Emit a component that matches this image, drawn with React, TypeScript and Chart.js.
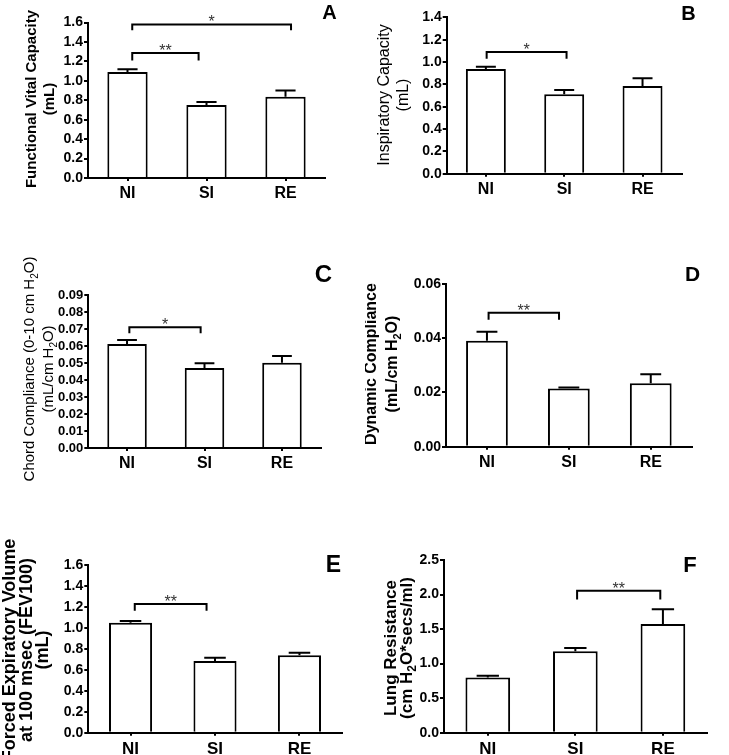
import React, { useEffect, useRef } from 'react';
import { Chart, registerables } from 'chart.js';

Chart.register(...registerables);

const FONT = 'Arial, "Liberation Sans", Helvetica, sans-serif';

const categories = ['NI', 'SI', 'RE'];

// A – Functional Vital Capacity
const fvcMean = [1.09, 0.75, 0.835];
const fvcSem = [0.028, 0.033, 0.065];
const fvcAxis = { max: 1.6, step: 0.2, decimals: 1 };
const fvcBrackets = [
  { from: 0.06, to: 0.9, top: 1.285, leg: 1.21, label: '**' },
  { from: 0.06, to: 2.07, top: 1.58, leg: 1.52, label: '*' },
];

// B – Inspiratory Capacity
const icMean = [0.937, 0.711, 0.785];
const icSem = [0.021, 0.039, 0.069];
const icAxis = { max: 1.4, step: 0.2, decimals: 1 };
const icBrackets = [{ from: 0.01, to: 1.03, top: 1.09, leg: 1.03, label: '*' }];

// C – Chord Compliance
const ccMean = [0.0612, 0.047, 0.0502];
const ccSem = [0.0023, 0.0028, 0.0039];
const ccAxis = { max: 0.09, step: 0.01, decimals: 2 };
const ccBrackets = [{ from: 0.03, to: 0.95, top: 0.071, leg: 0.0675, label: '*' }];

// D – Dynamic Compliance
const dcMean = [0.0391, 0.0215, 0.0234];
const dcSem = [0.0033, 0.0003, 0.0033];
const dcAxis = { max: 0.06, step: 0.02, decimals: 2 };
const dcBrackets = [{ from: 0.02, to: 0.88, top: 0.0494, leg: 0.0468, label: '**' }];

// E – FEV100
const fevMean = [1.05, 0.684, 0.738];
const fevSem = [0.015, 0.032, 0.025];
const fevAxis = { max: 1.6, step: 0.2, decimals: 1 };
const fevBrackets = [{ from: 0.05, to: 0.9, top: 1.228, leg: 1.164, label: '**' }];

// F – Lung Resistance
const lrMean = [0.8, 1.18, 1.573];
const lrSem = [0.025, 0.046, 0.213];
const lrAxis = { max: 2.5, step: 0.5, decimals: 1 };
const lrBrackets = [{ from: 1.02, to: 1.97, top: 2.055, leg: 1.93, label: '**' }];

type Bracket = { from: number; to: number; top: number; leg: number; label: string };
type Panel = {
  letter: string;
  mean: number[];
  sem: number[];
  axis: { max: number; step: number; decimals: number };
  brackets: Bracket[];
  title: string[];
  rect: { l: number; t: number; w: number; h: number };
  area: { l: number; t: number; r: number; b: number };
  titleX: number[];
  titleY: number;
  titleSize: number;
  titleWeight: string;
  letterX: number;
  letterY: number;
  letterSize: number;
  xFont: number;
  yFont: number;
};

const panels: Panel[] = [
  {
    letter: 'A', mean: fvcMean, sem: fvcSem, axis: fvcAxis, brackets: fvcBrackets,
    title: ['Functional Vital Capacity', '(mL)'],
    rect: { l: 0, t: 0, w: 365, h: 250 }, area: { l: 88, t: 22.5, r: 325, b: 178 },
    titleX: [31.5, 50], titleY: 99, titleSize: 15, titleWeight: 'bold',
    letterX: 329.5, letterY: 12, letterSize: 20, xFont: 16, yFont: 14,
  },
  {
    letter: 'B', mean: icMean, sem: icSem, axis: icAxis, brackets: icBrackets,
    title: ['Inspiratory Capacity', '(mL)'],
    rect: { l: 365, t: 0, w: 364, h: 250 }, area: { l: 446.7, t: 17.3, r: 681.7, b: 173.7 },
    titleX: [385, 403.5], titleY: 95, titleSize: 16, titleWeight: 'normal',
    letterX: 688.5, letterY: 13.5, letterSize: 20, xFont: 16, yFont: 14,
  },
  {
    letter: 'C', mean: ccMean, sem: ccSem, axis: ccAxis, brackets: ccBrackets,
    title: ['Chord Compliance (0-10 cm H₂O)', '(mL/cm H₂O)'],
    rect: { l: 0, t: 250, w: 365, h: 260 }, area: { l: 88.3, t: 295, r: 320.7, b: 448 },
    titleX: [30, 49], titleY: 369, titleSize: 15, titleWeight: 'normal',
    letterX: 323.5, letterY: 274, letterSize: 24, xFont: 16, yFont: 13,
  },
  {
    letter: 'D', mean: dcMean, sem: dcSem, axis: dcAxis, brackets: dcBrackets,
    title: ['Dynamic Compliance', '(mL/cm H₂O)'],
    rect: { l: 365, t: 250, w: 364, h: 260 }, area: { l: 446, t: 284, r: 691.7, b: 446.7 },
    titleX: [372, 392.5], titleY: 364, titleSize: 16, titleWeight: 'bold',
    letterX: 692.5, letterY: 274.5, letterSize: 21, xFont: 16, yFont: 14,
  },
  {
    letter: 'E', mean: fevMean, sem: fevSem, axis: fevAxis, brackets: fevBrackets,
    title: ['Forced Expiratory Volume', 'at 100 msec (FEV100)', '(mL)'],
    rect: { l: 0, t: 510, w: 365, h: 245 }, area: { l: 88.3, t: 565, r: 341.7, b: 732.7 },
    titleX: [10, 27, 43.5], titleY: 650, titleSize: 18, titleWeight: 'bold',
    letterX: 333.5, letterY: 565, letterSize: 23, xFont: 17, yFont: 14,
  },
  {
    letter: 'F', mean: lrMean, sem: lrSem, axis: lrAxis, brackets: lrBrackets,
    title: ['Lung Resistance', '(cm H₂O*secs/ml)'],
    rect: { l: 365, t: 510, w: 364, h: 245 }, area: { l: 444, t: 560, r: 706.7, b: 732.7 },
    titleX: [391.5, 407], titleY: 648, titleSize: 17, titleWeight: 'bold',
    letterX: 690, letterY: 565, letterSize: 22, xFont: 17, yFont: 14,
  },
];

function drawRich(ctx: CanvasRenderingContext2D, text: string, size: number, weight: string) {
  const parts: { t: string; sub: boolean; w: number }[] = [];
  let buf = '';
  for (const ch of text) {
    if (ch === '₂') {
      if (buf) parts.push({ t: buf, sub: false, w: 0 });
      parts.push({ t: '2', sub: true, w: 0 });
      buf = '';
    } else buf += ch;
  }
  if (buf) parts.push({ t: buf, sub: false, w: 0 });
  const fontFor = (sub: boolean) => `${weight} ${sub ? Math.round(size * 0.68) : size}px ${FONT}`;
  let total = 0;
  for (const p of parts) {
    ctx.font = fontFor(p.sub);
    p.w = ctx.measureText(p.t).width;
    total += p.w;
  }
  let x = -total / 2;
  ctx.textAlign = 'left';
  ctx.textBaseline = 'middle';
  for (const p of parts) {
    ctx.font = fontFor(p.sub);
    ctx.fillText(p.t, x, p.sub ? size * 0.32 : 0);
    x += p.w;
  }
}

function makePlugin(p: Panel) {
  return {
    id: 'annot' + p.letter,
    afterDatasetsDraw(chart: any) {
      const { ctx } = chart;
      const x = chart.scales.x;
      const y = chart.scales.y;
      ctx.save();
      ctx.strokeStyle = '#000';
      ctx.lineWidth = 2;
      ctx.lineCap = 'butt';
      const meta = chart.getDatasetMeta(0);
      meta.data.forEach((bar: any, i: number) => {
        const xc = bar.x;
        const top = y.getPixelForValue(p.mean[i]);
        const et = y.getPixelForValue(p.mean[i] + p.sem[i]);
        const half = bar.width * 0.25;
        ctx.beginPath();
        ctx.moveTo(xc, top);
        ctx.lineTo(xc, et);
        ctx.moveTo(xc - half, et);
        ctx.lineTo(xc + half, et);
        ctx.stroke();
      });
      p.brackets.forEach((b) => {
        const x1 = x.getPixelForValue(b.from);
        const x2 = x.getPixelForValue(b.to);
        const yt = y.getPixelForValue(b.top);
        const yl = y.getPixelForValue(b.leg);
        ctx.beginPath();
        ctx.moveTo(x1, yl);
        ctx.lineTo(x1, yt);
        ctx.lineTo(x2, yt);
        ctx.lineTo(x2, yl);
        ctx.stroke();
        ctx.fillStyle = '#333';
        ctx.font = `normal 16px ${FONT}`;
        ctx.textAlign = 'center';
        ctx.textBaseline = 'alphabetic';
        ctx.fillText(b.label, (x1 + x2) / 2, yt + 3);
      });
      ctx.restore();
    },
    afterDraw(chart: any) {
      const { ctx } = chart;
      ctx.save();
      ctx.fillStyle = '#000';
      p.title.forEach((line, i) => {
        ctx.save();
        ctx.translate(p.titleX[i] - p.rect.l, p.titleY - p.rect.t);
        ctx.rotate(-Math.PI / 2);
        drawRich(ctx, line, p.titleSize, p.titleWeight);
        ctx.restore();
      });
      ctx.font = `bold ${p.letterSize}px ${FONT}`;
      ctx.textAlign = 'center';
      ctx.textBaseline = 'middle';
      ctx.fillText(p.letter, p.letterX - p.rect.l, p.letterY - p.rect.t + 1);
      ctx.restore();
    },
  };
}

function PanelChart({ p }: { p: Panel }) {
  const ref = useRef<HTMLCanvasElement | null>(null);
  useEffect(() => {
    if (!ref.current) return;
    const padTop = p.area.t - p.rect.t;
    const padRight = p.rect.l + p.rect.w - p.area.r;
    const yWidth = p.area.l - p.rect.l;
    const xHeight = p.rect.t + p.rect.h - p.area.b;
    const chart = new Chart(ref.current, {
      type: 'bar',
      data: {
        labels: categories,
        datasets: [
          {
            data: p.mean,
            backgroundColor: '#ffffff',
            borderColor: '#000000',
            borderWidth: 2,
            barPercentage: 0.51,
            categoryPercentage: 1,
          },
        ],
      },
      options: {
        responsive: false,
        animation: false,
        events: [],
        layout: { padding: { top: padTop, right: padRight, left: 0, bottom: 0 } },
        plugins: { legend: { display: false }, tooltip: { enabled: false }, title: { display: false } },
        scales: {
          x: {
            offset: true,
            afterFit: (s: any) => { s.height = xHeight; },
            grid: { display: true, offset: false, drawOnChartArea: false, drawTicks: true, tickLength: 3, color: '#000', lineWidth: 2 },
            border: { display: true, color: '#000', width: 2 },
            ticks: { color: '#000', padding: 3, font: { family: FONT, size: p.xFont, weight: 'bold' } },
          },
          y: {
            min: 0,
            max: p.axis.max,
            afterFit: (s: any) => { s.width = yWidth; },
            grid: { display: true, drawOnChartArea: false, drawTicks: true, tickLength: 4, color: '#000', lineWidth: 2 },
            border: { display: true, color: '#000', width: 2 },
            ticks: {
              stepSize: p.axis.step,
              autoSkip: false,
              color: '#000',
              padding: 1,
              font: { family: FONT, size: p.yFont, weight: 'bold' },
              callback: (v: any) => Number(v).toFixed(p.axis.decimals),
            },
          },
        },
      },
      plugins: [makePlugin(p)],
    } as any);
    return () => chart.destroy();
  }, [p]);
  return (
    <canvas
      ref={ref}
      width={p.rect.w}
      height={p.rect.h}
      style={{ position: 'absolute', left: p.rect.l, top: p.rect.t, width: p.rect.w, height: p.rect.h }}
    />
  );
}

export default function App() {
  return (
    <div style={{ position: 'absolute', left: 0, top: 0, width: 729, height: 755, background: '#fff', overflow: 'hidden' }}>
      {panels.map((p) => (
        <PanelChart key={p.letter} p={p} />
      ))}
    </div>
  );
}
